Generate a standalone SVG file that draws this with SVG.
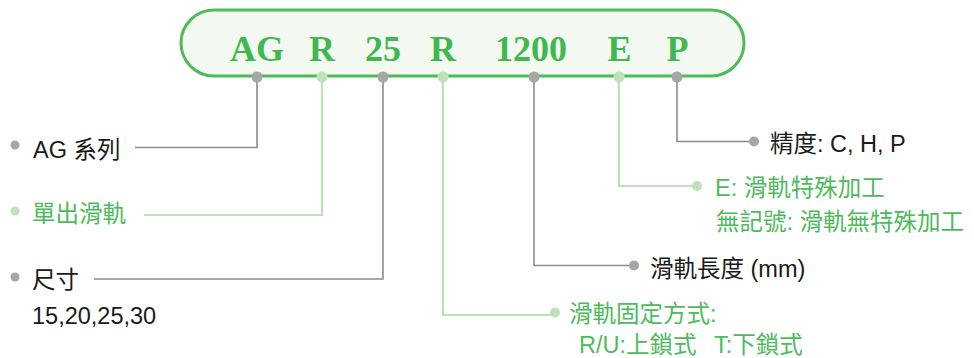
<svg xmlns="http://www.w3.org/2000/svg" width="974" height="358" viewBox="0 0 974 358">
<style>
.code{font-family:"Liberation Serif","Times New Roman",serif;font-weight:bold;font-size:36px;fill:#3fb84f;text-anchor:middle}
.lbl{font-family:"Liberation Sans","Noto Sans CJK TC",sans-serif;font-size:23.5px}
.blk{fill:#1a1a1a}
.grn{fill:#4dbb5c}
.lg{stroke:#8c8c8c;stroke-width:1.6;fill:none}
.lgr{stroke:#a8daa2;stroke-width:1.6;fill:none}
.dg{fill:#a6a6a6}
.dgr{fill:#bfe2bb}
</style>
<rect x="0" y="0" width="974" height="358" fill="#ffffff"/>
<g id="code">
<rect x="181" y="10" width="563" height="66" rx="33" ry="33" fill="#f3f8f0" stroke="#4dbb5a" stroke-width="3"/>
<text class="code" x="257" y="61">AG</text>
<text class="code" x="322" y="61">R</text>
<text class="code" x="383" y="61">25</text>
<text class="code" x="443" y="61">R</text>
<text class="code" x="531" y="61">1200</text>
<text class="code" x="619.5" y="61">E</text>
<text class="code" x="677.5" y="61">P</text>
</g>
<g id="connectors">
<polyline class="lg" points="257,77 257,147.5 135,147.5"/>
<polyline class="lgr" points="322,77 322,215 144,215"/>
<polyline class="lg" points="383,77 383,279 94,279"/>
<polyline class="lgr" points="443,77 443,315 554,315"/>
<polyline class="lg" points="534,77 534,265.5 634,265.5"/>
<polyline class="lgr" points="619,77 619,186 697,186"/>
<polyline class="lg" points="677,77 677,141.5 754,141.5"/>
<circle class="dg" cx="257" cy="77" r="5.5"/>
<circle class="dgr" cx="322" cy="77" r="5.5"/>
<circle class="dg" cx="383" cy="77" r="5.5"/>
<circle class="dgr" cx="443" cy="77" r="5.5"/>
<circle class="dg" cx="534" cy="77" r="5.5"/>
<circle class="dgr" cx="619" cy="77" r="5.5"/>
<circle class="dg" cx="677" cy="77" r="5.5"/>
</g>
<g id="series">
<circle class="dg" cx="15" cy="145" r="4.5"/>
<text class="lbl blk" x="33" y="158">AG 系列</text>
</g>
<g id="single">
<circle class="dgr" cx="15" cy="211" r="4.5"/>
<text class="lbl grn" x="32" y="222">單出滑軌</text>
</g>
<g id="size">
<circle class="dg" cx="15" cy="277" r="4.5"/>
<text class="lbl blk" x="32" y="288">尺寸</text>
<text class="lbl blk" x="32" y="324">15,20,25,30</text>
</g>
<g id="mount">
<circle class="dgr" cx="555" cy="312.5" r="5"/>
<text class="lbl grn" x="569" y="322">滑軌固定方式:</text>
<text class="lbl grn" x="579" y="353">R/U:上鎖式<tspan x="714">T:下鎖式</tspan></text>
</g>
<g id="length">
<circle class="dg" cx="634" cy="265.5" r="5"/>
<text class="lbl blk" x="650" y="277">滑軌長度 (mm)</text>
</g>
<g id="special">
<circle class="dgr" cx="697" cy="186" r="5"/>
<text class="lbl grn" x="715" y="196">E: 滑軌特殊加工</text>
<text class="lbl grn" x="716" y="230">無記號: 滑軌無特殊加工</text>
</g>
<g id="precision">
<circle class="dg" cx="754" cy="141.5" r="5"/>
<text class="lbl blk" x="770" y="152">精度: C, H, P</text>
</g>
</svg>
